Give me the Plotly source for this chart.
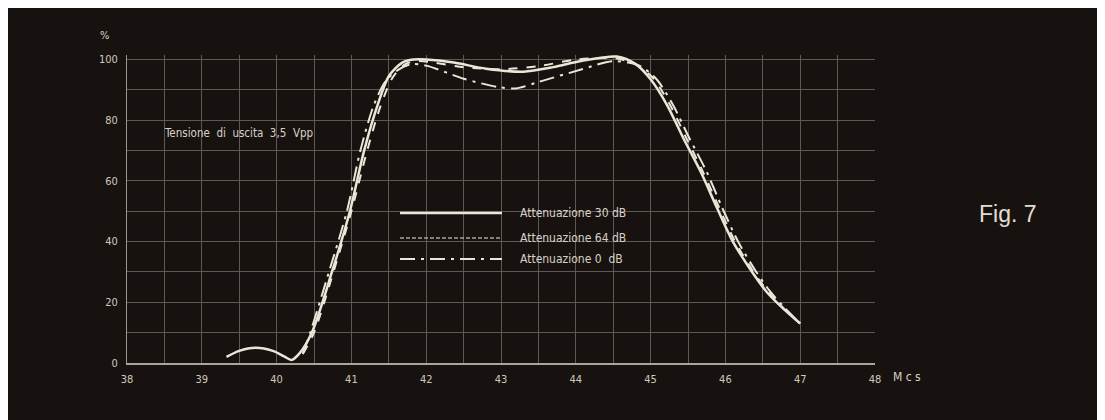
import plotly.graph_objects as go

# frequency axis (Mc/s) and relative output (%)
x_ticks = [38, 39, 40, 41, 42, 43, 44, 45, 46, 47, 48]
y_ticks = [0, 20, 40, 60, 80, 100]

# Attenuazione 30 dB (solid)
x_30 = [39.33, 39.5, 39.72, 39.95, 40.1, 40.2, 40.3, 40.47, 40.74, 40.98, 41.17, 41.35,
        41.5, 41.68, 41.83, 42.0, 42.37, 42.8, 43.3, 43.7, 44.07, 44.55, 44.8, 45.0,
        45.22, 45.44, 45.67, 45.89, 46.1, 46.33, 46.55, 46.77, 47.0]
y_30 = [2, 4, 5, 4, 2.2, 1, 3, 10, 30, 50, 70, 85,
        94.5, 99, 100, 100, 99, 97, 96, 97.5, 99.5, 101, 98.5, 93.5,
        85, 74, 63, 51, 40, 31, 23.5, 18, 13]

# Attenuazione 64 dB (dashed)
x_64 = [40.35, 40.5, 40.76, 41.0, 41.2, 41.38, 41.55, 41.72, 41.9, 42.1, 42.5, 43.0,
        43.5, 44.0, 44.5, 44.8, 45.03, 45.25, 45.48, 45.7, 45.92, 46.13, 46.35, 46.57,
        46.78, 47.0]
y_64 = [3, 10, 30, 50, 69, 84, 94, 98.5, 99.5, 99, 97.5, 96.8,
        97.8, 100, 100.5, 98.5, 94, 85.5, 74, 63, 51, 40, 31, 23.5,
        18, 13]

# Attenuazione 0 dB (dash-dot)
x_0 = [40.35, 40.45, 40.7, 40.94, 41.12, 41.3, 41.46, 41.62, 41.8, 42.0, 42.5, 42.95,
       43.2, 43.5, 44.07, 44.5, 44.85, 45.08, 45.3, 45.52, 45.75, 45.96, 46.17, 46.4,
       46.6, 46.8, 47.0]
y_0 = [3, 10, 30, 50, 70, 85, 93, 96.5, 98.5, 98, 93.7, 91,
       90.5, 92.6, 96.7, 99.5, 98, 93.5, 85, 74, 63, 51, 40, 30.5,
       23.5, 18, 13]

legend_names = ["Attenuazione 30 dB", "Attenuazione 64 dB", "Attenuazione 0  dB"]

# the page puts the figure 8px in from the top left, so work in screen pixels
OX, OY = 8, 8
W, H = 1105 - OX, 420 - OY
L, R, T, B = 127 - OX, 230, 55 - OY, 57
PW, PH = W - L - R, H - T - B


def px(xp):
    return (xp - OX - L) / PW


def py(yp):
    return (H - B - (yp - OY)) / PH


BG = "#171210"
INK = "#ece6d8"
GRID = "#5f5955"
LABEL = "#d8d2c6"
narrow = "Liberation Sans Narrow, DejaVu Sans Condensed, Arial Narrow, sans-serif"

fig = go.Figure()
fig.add_trace(go.Scatter(x=x_64, y=y_64, mode="lines", name=legend_names[1],
                         line=dict(color=INK, width=2, dash="dash", shape="spline", smoothing=0.8)))
fig.add_trace(go.Scatter(x=x_0, y=y_0, mode="lines", name=legend_names[2],
                         line=dict(color=INK, width=2, dash="longdashdot", shape="spline", smoothing=0.8)))
fig.add_trace(go.Scatter(x=x_30, y=y_30, mode="lines", name=legend_names[0],
                         line=dict(color=INK, width=2.5, shape="spline", smoothing=0.8)))

# hand drawn style legend inside the plot
leg_rows = [213, 238, 259]
leg_styles = [dict(color=INK, width=2.5),
              dict(color="#a9a39a", width=1.5, dash="4px,2px"),
              dict(color=INK, width=2, dash="longdashdot")]
shapes = []
annotations = []
for row, style, name in zip(leg_rows, leg_styles, legend_names):
    shapes.append(dict(type="line", xref="paper", yref="paper", x0=px(400), x1=px(502),
                       y0=py(row), y1=py(row), line=style))
    annotations.append(dict(text=name, xref="paper", yref="paper", x=px(518), y=py(row),
                            xanchor="left", yanchor="middle", showarrow=False,
                            font=dict(family=narrow, size=12, color=LABEL)))

annotations += [
    dict(text="%", xref="paper", yref="paper", x=px(104), y=py(35), showarrow=False,
         xanchor="center", yanchor="middle", font=dict(family=narrow, size=11, color=LABEL)),
    dict(text="Tensione  di  uscita  3,5  Vpp", xref="paper", yref="paper", x=px(162), y=py(133),
         showarrow=False, xanchor="left", yanchor="middle",
         font=dict(family=narrow, size=11.5, color=LABEL)),
    dict(text="M c s", xref="paper", yref="paper", x=px(891), y=py(377), showarrow=False,
         xanchor="left", yanchor="middle", font=dict(family=narrow, size=12, color=LABEL)),
    dict(text="Fig. 7", xref="paper", yref="paper", x=px(977), y=py(214), showarrow=False,
         xanchor="left", yanchor="middle",
         font=dict(family="Liberation Sans, Arial, sans-serif", size=23, color="#e2ddd2")),
]

fig.update_layout(
    width=W, height=H,
    margin=dict(l=L, r=R, t=T, b=B),
    paper_bgcolor=BG, plot_bgcolor=BG,
    showlegend=False,
    shapes=shapes,
    annotations=annotations,
    xaxis=dict(range=[38, 48], tickvals=x_ticks, ticktext=[str(v) for v in x_ticks],
               showgrid=True, gridcolor=GRID, gridwidth=1,
               minor=dict(dtick=0.5, tick0=38, showgrid=True, gridcolor=GRID, gridwidth=1),
               showline=True, linecolor="#aaa49a", linewidth=1.5, zeroline=False,
               ticklabelstandoff=5,
               tickfont=dict(family=narrow, size=11, color="#cfc9bd")),
    yaxis=dict(range=[0, 101.5], tickvals=y_ticks, ticktext=[str(v) for v in y_ticks],
               showgrid=True, gridcolor=GRID, gridwidth=1,
               minor=dict(dtick=10, tick0=0, showgrid=True, gridcolor=GRID, gridwidth=1),
               showline=True, linecolor="#9d978d", linewidth=1, zeroline=False,
               ticklabelstandoff=6,
               tickfont=dict(family=narrow, size=11, color="#cfc9bd")),
)

fig.write_html("out.html")
